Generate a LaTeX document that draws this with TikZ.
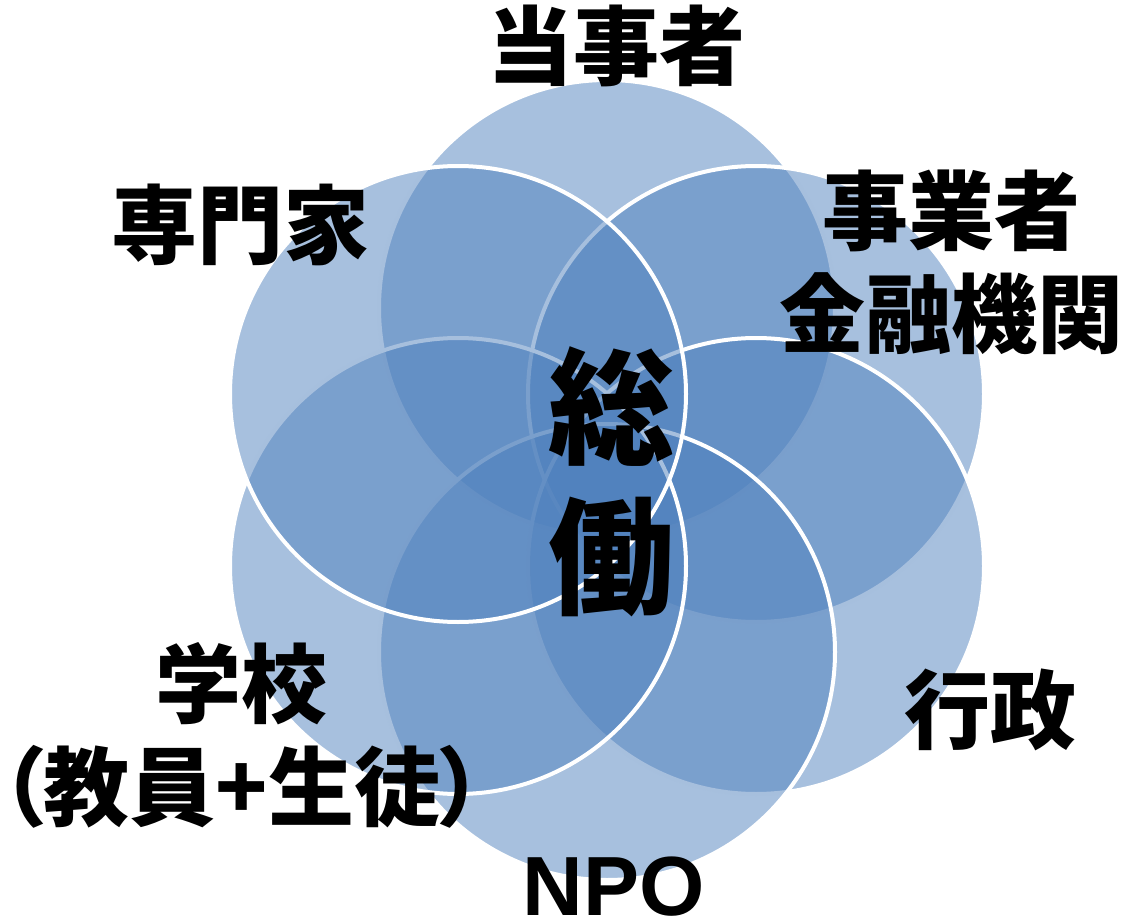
\documentclass[tikz,border=0pt]{standalone}
\usepackage{fontspec}
\setmainfont{Noto Sans CJK JP}
\newfontfamily\paltfont{Noto Sans CJK JP}[RawFeature=+palt]
\newfontfamily\latinfont{Liberation Sans}
\definecolor{petalblue}{HTML}{4F81BD}

\begin{document}
\begin{tikzpicture}[
                x=1pt, y=-1pt,
                petal/.style={circle,minimum size=456pt,inner sep=0pt,
                    fill=petalblue,fill opacity=0.5,draw=white,line width=4pt},
                petaltext/.style={font=\bfseries\fontsize{86}{103}\selectfont,
                    align=center,inner sep=0pt}
            ]

            \useasboundingbox (0,0) rectangle (1122,920);

            % petals, clockwise from the top
            \node[petal] (tojisha) at (607,308) {};
            \node[petal] (jigyosha) at (756,394) {};
            \node[petal] (gyosei) at (756,566) {};
            \node[petal] (npo) at (607,652) {};
            \node[petal] (gakko) at (458,566) {};
            \node[petal] (senmonka) at (458,394) {};

            % names
            \node[petaltext] (tojishatext) at (616,46) {当事者};
            \node[petaltext] (jigyoshatext) at (951,262) {事業者\\金融機関};
            \node[petaltext] (gyoseitext) at (990,710) {行政};
            \node[petaltext,font=\latinfont\bfseries\fontsize{84}{100}\selectfont] (npotext) at (614,887) {NPO};
            \node[petaltext] (gakkotext) at (242,735) {学校\\{\paltfont （教員+生徒）}};
            \node[petaltext] (senmonkatext) at (240,225) {専門家};

            \node[petaltext,font=\bfseries\fontsize{126}{150}\selectfont] (sodo) at (611,482) {総\\働};

        \end{tikzpicture}
\end{document}
